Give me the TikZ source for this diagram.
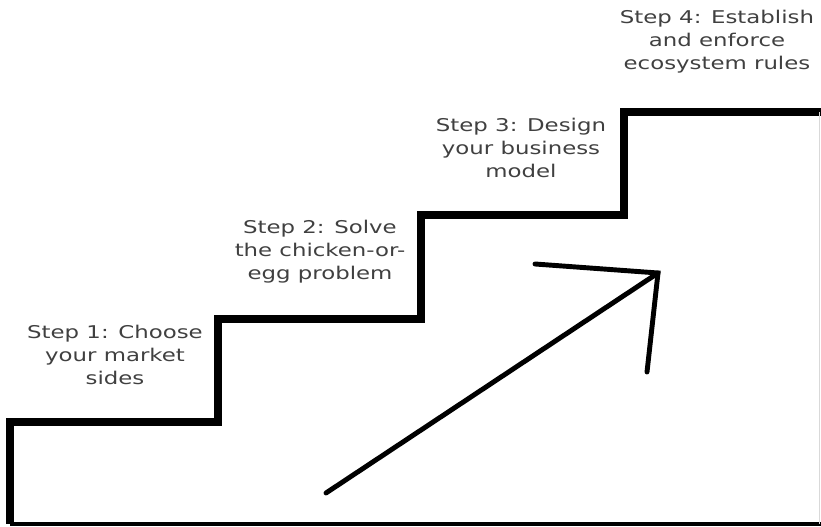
\documentclass[tikz,border=0pt]{standalone}
\usepackage{fontspec}
\setmainfont{DejaVu Sans}[FakeStretch=1.3]
\usepackage{tikz}
\usetikzlibrary{positioning}

\begin{document}
\begin{tikzpicture}
\tikzstyle{steptext}=[align=center, text=black!75, inner sep=0pt, font=\fontsize{10}{13}\selectfont]
\tikzstyle{stair}=[line width=4pt, line join=miter]
\tikzstyle{pointer}=[line width=2.8pt, line cap=round, line join=miter]
\useasboundingbox (0,0) rectangle (16.42,10.54);

% the stairs
\draw[stair] (0.2,0.06) -- (0.2,2.1) -- (4.36,2.1) -- (4.36,4.16) -- (8.42,4.16)
  -- (8.42,6.24) -- (12.48,6.24) -- (12.48,8.3) -- (16.42,8.3);
\draw[line width=2.3pt] (0.2,0.06) -- (16.42,0.06);
\draw[black!15, thin] (16.38,0.06) -- (16.38,8.3);

\node[steptext] (step1) at (2.3,3.44) {Step 1: Choose\\your market\\sides};
\node[steptext] (step2) at (6.4,5.5) {Step 2: Solve\\the chicken-or-\\egg problem};
\node[steptext] (step3) at (10.42,7.58) {Step 3: Design\\your business\\model};
\node[steptext] (step4) at (14.34,9.7) {Step 4: Establish\\and enforce\\ecosystem rules};

% the arrow
\coordinate (tail) at (6.52,0.68);
\coordinate (tip) at (13.16,5.08);
\coordinate (barbA) at (10.7,5.26);
\coordinate (barbB) at (12.94,3.1);
\draw[pointer] (tail) -- (tip);
\draw[pointer] (barbA) -- (tip) -- (barbB);
\end{tikzpicture}
\end{document}
